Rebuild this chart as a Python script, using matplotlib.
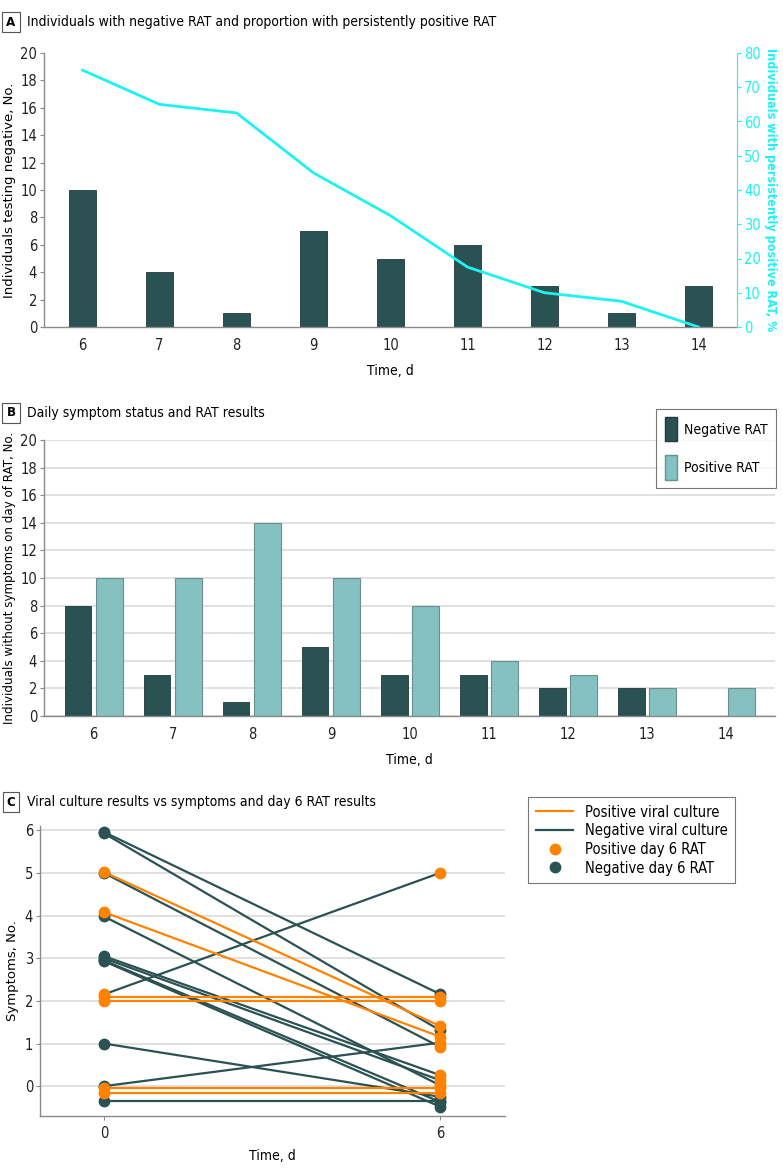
import numpy as np
import matplotlib.pyplot as plt
from matplotlib.lines import Line2D
from matplotlib.patches import Patch

# panel A
days = [6, 7, 8, 9, 10, 11, 12, 13, 14]
neg_counts = [10, 4, 1, 7, 5, 6, 3, 1, 3]
persist_pct = [75, 65, 62.5, 45, 32.5, 17.5, 10, 7.5, 0]

# panel B
neg_nosym = [8, 3, 1, 5, 3, 3, 2, 2, 0]
pos_nosym = [10, 10, 14, 10, 8, 4, 3, 2, 2]

# panel C: symptoms at day 0 and day 6 per individual
sym_d0 = [5.96, 5.93, 5.02, 5.00, 4.08, 3.98, 3.05, 3.00, 2.95, 2.93, 2.15, 2.09, 2.00, 1.00, 0.00, -0.05, -0.15, -0.35]
sym_d6 = [2.16, 1.31, 1.41, 0.92, 1.16, 0.02, 0.26, 0.14, -0.37, -0.48, 5.00, 2.09, 2.00, -0.25, 1.02, -0.05, -0.15, -0.35]
culture_pos = [0, 0, 1, 0, 1, 0, 0, 0, 0, 0, 0, 1, 1, 0, 0, 1, 1, 0]
rat_pos_d0 = [0, 0, 1, 0, 1, 0, 0, 0, 0, 0, 1, 1, 1, 0, 0, 1, 1, 0]
rat_pos_d6 = [0, 0, 1, 1, 1, 1, 1, 1, 0, 0, 1, 1, 1, 0, 1, 1, 1, 0]

DARK = '#2b5253'
LIGHT = '#84c1c0'
ORANGE = '#ff8300'
CYAN = '#1df2f2'
GRID = '#dcdcdc'
SPINE = '#8a8a8a'
NARROW = dict(family='DejaVu Sans', stretch='condensed')

plt.rcParams['font.family'] = ['DejaVu Sans']
plt.rcParams['font.size'] = 9

W, H = 783, 1168
fig = plt.figure(figsize=(W / 100, H / 100), dpi=100)


def box(x0, y0, x1, y1):
    return [x0 / W, 1 - y1 / H, (x1 - x0) / W, (y1 - y0) / H]


def panel_title(letter, text, y):
    fig.text(11 / W, 1 - y / H, letter, ha='center', va='center', fontsize=9.5,
             fontweight='bold', **NARROW,
             bbox=dict(boxstyle='square,pad=0.3', fc='white', ec='#555555', lw=0.8))
    fig.text(27 / W, 1 - y / H, text, ha='left', va='center', fontsize=10, **NARROW)


def style(ax):
    for s in ['top', 'right']:
        ax.spines[s].set_visible(False)
    for s in ['left', 'bottom']:
        ax.spines[s].set_color(SPINE)
        ax.spines[s].set_linewidth(1.0)
    ax.tick_params(colors='#222222', labelsize=10.5, length=3, color=SPINE, pad=2)
    for lab in ax.get_xticklabels() + ax.get_yticklabels():
        lab.set_fontstretch('condensed')


# ---- A ----
panel_title('A', 'Individuals with negative RAT and proportion with persistently positive RAT', 22)
axA = fig.add_axes(box(44, 53, 737, 327))
axA.bar(days, neg_counts, width=0.36, color=DARK, edgecolor='#1e3a3a', linewidth=0.6, zorder=2)
axA.set_xlim(5.5, 14.5)
axA.set_ylim(0, 20)
axA.set_yticks(range(0, 21, 2))
axA.set_xticks(days)
style(axA)
axA.tick_params(axis='x', length=0, pad=8)
axA.set_xlabel('Time, d', fontsize=10, labelpad=8, **NARROW)
axA.set_ylabel('Individuals testing negative, No.', fontsize=9.5, labelpad=3)

axA2 = axA.twinx()
axA2.plot(days, persist_pct, color=CYAN, lw=2)
axA2.set_ylim(0, 80)
axA2.set_yticks(range(0, 81, 10))
for s in ['top', 'left', 'bottom']:
    axA2.spines[s].set_visible(False)
axA2.spines['right'].set_color(CYAN)
axA2.tick_params(axis='y', colors=CYAN, labelsize=10.5, length=3, pad=2)
for lab in axA2.get_yticklabels():
    lab.set_fontstretch('condensed')
axA2.set_ylabel('Individuals with persistently positive RAT, %', color=CYAN,
                rotation=270, labelpad=12, fontsize=9, fontweight='bold',
                fontstretch='condensed')

# ---- B ----
panel_title('B', 'Daily symptom status and RAT results', 413)
axB = fig.add_axes(box(44, 440, 775, 716))
x = np.array(days)
axB.bar(x - 0.2, neg_nosym, width=0.34, color=DARK, edgecolor='#1e3a3a', linewidth=0.6,
        zorder=2, label='Negative RAT')
axB.bar(x + 0.2, pos_nosym, width=0.34, color=LIGHT, edgecolor='#6a8f8f', linewidth=0.8,
        zorder=2, label='Positive RAT')
axB.set_xlim(5.37, 14.62)
axB.set_ylim(0, 20)
axB.set_yticks(range(0, 21, 2))
axB.set_xticks(days)
axB.yaxis.grid(True, color=GRID, lw=1.2, zorder=0)
axB.set_axisbelow(True)
style(axB)
axB.tick_params(axis='x', length=0, pad=8)
axB.set_xlabel('Time, d', fontsize=10, labelpad=8, **NARROW)
axB.set_ylabel('Individuals without symptoms on day of RAT, No.', fontsize=8.6, labelpad=3)
handlesB = [Patch(fc=DARK, ec='#1e3a3a'), Patch(fc=LIGHT, ec='#6a8f8f')]
legB = fig.legend(handlesB, ['Negative RAT', 'Positive RAT'],
                  loc='upper right', bbox_to_anchor=(783 / W, 1 - 402 / H),
                  frameon=True, fancybox=False, edgecolor='#555555',
                  handlelength=0.9, handleheight=2.3, labelspacing=1.0,
                  handletextpad=0.5, borderpad=0.6, prop=dict(size=10, **NARROW))
legB.get_frame().set_linewidth(0.8)

# ---- C ----
panel_title('C', 'Viral culture results vs symptoms and day 6 RAT results', 802)
axC = fig.add_axes(box(40, 826, 505, 1116))
axC.set_xlim(-1.14, 7.16)
axC.set_ylim(-0.7, 6.1)
axC.set_yticks(range(0, 7))
axC.set_xticks([0, 6])
axC.yaxis.grid(True, color=GRID, lw=1.2, zorder=0)
axC.set_axisbelow(True)
style(axC)
axC.tick_params(axis='x', pad=4)
axC.set_xlabel('Time, d', fontsize=10, labelpad=6, **NARROW)
axC.set_ylabel('Symptoms, No.', fontsize=9.5, labelpad=4)

order = sorted(range(len(sym_d0)), key=lambda i: culture_pos[i])
for i in order:
    c = ORANGE if culture_pos[i] else DARK
    axC.plot([0, 6], [sym_d0[i], sym_d6[i]], color=c, lw=1.6, zorder=2)
for flag in [0, 1]:
    for i in range(len(sym_d0)):
        if rat_pos_d0[i] == flag:
            axC.plot(0, sym_d0[i], 'o', color=ORANGE if flag else DARK, ms=7.5, zorder=3)
        if rat_pos_d6[i] == flag:
            axC.plot(6, sym_d6[i], 'o', color=ORANGE if flag else DARK, ms=7.5, zorder=3)

handlesC = [Line2D([], [], color=ORANGE, lw=1.6),
            Line2D([], [], color=DARK, lw=1.6),
            Line2D([], [], color=ORANGE, marker='o', ls='none', ms=7.5),
            Line2D([], [], color=DARK, marker='o', ls='none', ms=7.5)]
legC = fig.legend(handlesC, ['Positive viral culture', 'Negative viral culture',
                             'Positive day 6 RAT', 'Negative day 6 RAT'],
                  loc='upper left', bbox_to_anchor=(521 / W, 1 - 790 / H),
                  frameon=True, fancybox=False, edgecolor='#555555',
                  handlelength=2.6, labelspacing=0.25, borderpad=0.5,
                  prop=dict(size=10.5, **NARROW))
legC.get_frame().set_linewidth(0.8)

fig.savefig('out.png', dpi=100)
